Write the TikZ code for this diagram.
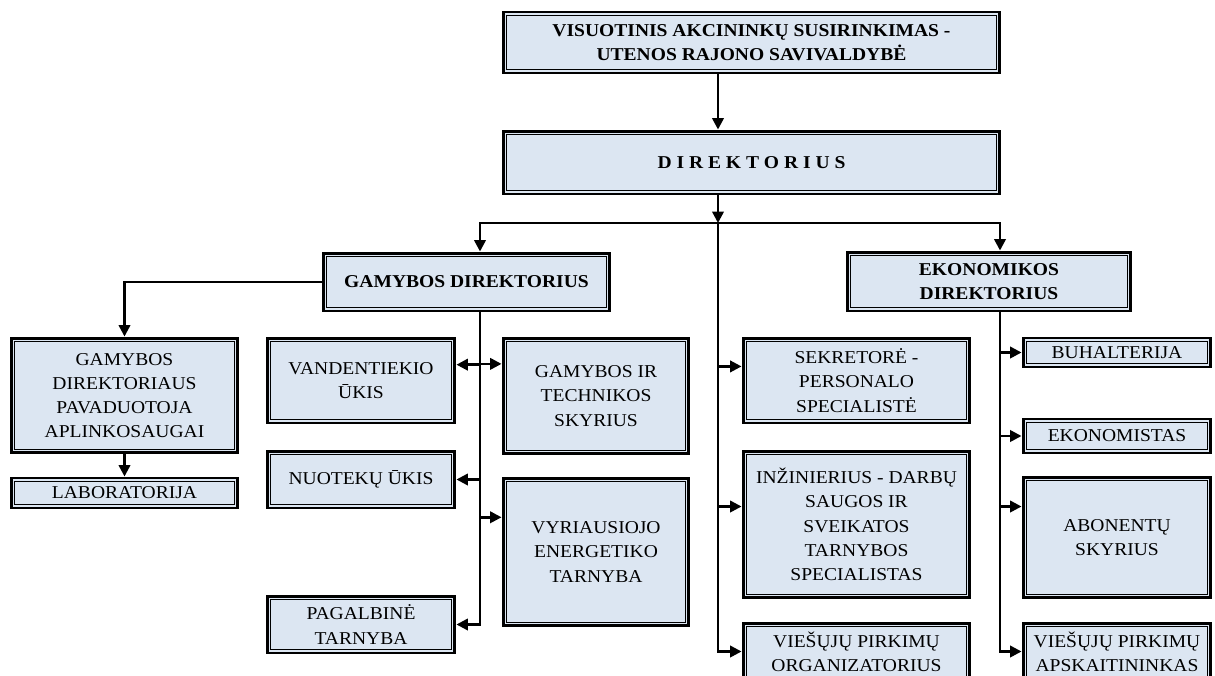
\documentclass[tikz,border=0pt]{standalone}
\usepackage{fontspec}
\setmainfont[FakeStretch=1.08]{Liberation Serif}
\usetikzlibrary{arrows.meta}
\usetikzlibrary{calc}
\definecolor{boxfill}{HTML}{DCE6F2}
\tikzset{
  box/.style={draw, line width=1.7pt, fill=boxfill, align=center, inner sep=1pt,
    font=\fontsize{10.3}{13.8}\selectfont,
    path picture={\draw[line width=0.6pt] ([shift={(2pt,2pt)}]path picture bounding box.south west) rectangle ([shift={(-2pt,-2pt)}]path picture bounding box.north east);}},
  boldbox/.style={box, font=\fontsize{10.3}{13.8}\selectfont\bfseries},
  arr/.style={line width=1.4pt, -{Triangle[length=6.5pt,width=6.5pt]}}
}
\begin{document}
\begin{tikzpicture}[x=0.02cm, y=-0.02cm]
  \clip (0,0) rectangle (1215,676);
  % top of the chart
  \node[boldbox, minimum width=9.94cm, minimum height=1.22cm] (vis) at (751.5,42.5)
    {VISUOTINIS AKCININKŲ SUSIRINKIMAS -\\UTENOS RAJONO SAVIVALDYBĖ};
  \node[boldbox, minimum width=9.94cm, minimum height=1.26cm] (dir) at (751.5,162.5)
    {D I R E K T O R I U S};
  \node[boldbox, minimum width=5.74cm, minimum height=1.16cm] (gd) at (466.5,282)
    {GAMYBOS DIREKTORIUS};
  \node[boldbox, minimum width=5.68cm, minimum height=1.18cm] (ed) at (989,281.5)
    {EKONOMIKOS\\DIREKTORIUS};

  % production side
  \node[box, minimum width=4.54cm, minimum height=2.3cm] (pav) at (124.5,395.5)
    {GAMYBOS\\DIREKTORIAUS\\PAVADUOTOJA\\APLINKOSAUGAI};
  \node[box, minimum width=4.54cm, minimum height=0.6cm] (lab) at (124.5,493) {LABORATORIJA};
  \node[box, minimum width=3.76cm, minimum height=1.7cm] (van) at (361,380.5) {VANDENTIEKIO\\ŪKIS};
  \node[box, minimum width=3.76cm, minimum height=1.14cm] (nuo) at (361,479.5) {NUOTEKŲ ŪKIS};
  \node[box, minimum width=3.76cm, minimum height=1.14cm] (pag) at (361,624.5) {PAGALBINĖ\\TARNYBA};
  \node[box, minimum width=3.72cm, minimum height=2.32cm] (gts) at (596,396)
    {GAMYBOS IR\\TECHNIKOS\\SKYRIUS};
  \node[box, minimum width=3.72cm, minimum height=2.96cm] (vyr) at (596,552)
    {VYRIAUSIOJO\\ENERGETIKO\\TARNYBA};

  % director's staff
  \node[box, minimum width=4.54cm, minimum height=1.7cm] (sek) at (856.5,380.5)
    {SEKRETORĖ -\\PERSONALO\\SPECIALISTĖ};
  \node[box, minimum width=4.54cm, minimum height=2.94cm] (inz) at (856.5,524.5)
    {INŽINIERIUS - DARBŲ\\SAUGOS IR\\SVEIKATOS\\TARNYBOS\\SPECIALISTAS};
  \node[box, minimum width=4.54cm, minimum height=1.14cm] (vpo) at (856.5,651.5)
    {VIEŠŲJŲ PIRKIMŲ\\ORGANIZATORIUS};

  % economics side
  \node[box, minimum width=3.76cm, minimum height=0.58cm] (buh) at (1117,352.5) {BUHALTERIJA};
  \node[box, minimum width=3.76cm, minimum height=0.68cm] (eko) at (1117,436) {EKONOMISTAS};
  \node[box, minimum width=3.76cm, minimum height=2.42cm] (abo) at (1117,537.5) {ABONENTŲ\\SKYRIUS};
  \node[box, minimum width=3.76cm, minimum height=1.14cm] (vpa) at (1117,651.5)
    {VIEŠŲJŲ PIRKIMŲ\\APSKAITININKAS};

  \coordinate (bus) at (718,223);
  \coordinate (gl) at (480,223);
  \coordinate (el) at (1000,223);
  \coordinate (pvan) at ($(van.north east)!0.32!(van.south east)$);
  \coordinate (pgts) at ($(gts.north west)!0.23!(gts.south west)$);
  \coordinate (pvyr) at ($(vyr.north west)!0.27!(vyr.south west)$);
  \coordinate (psek) at ($(sek.north west)!0.34!(sek.south west)$);
  \coordinate (pinz) at ($(inz.north west)!0.38!(inz.south west)$);
  \coordinate (pabo) at ($(abo.north west)!0.25!(abo.south west)$);

  \draw[arr] (vis.south -| bus) -- (dir.north -| bus);
  \draw[arr] (dir.south -| bus) -- (bus);
  \draw[arr] (bus) -| (gd.north -| gl);
  \draw[arr] (bus) -| (ed.north -| el);
  \draw[arr] (bus) |- (vpo.west);
  \draw[arr] (bus |- psek) -- (psek);
  \draw[arr] (bus |- pinz) -- (pinz);

  \draw[arr] (gd.west) -| (pav.north);
  \draw[arr] (pav.south) -- (lab.north);
  \draw[arr] (gd.south -| gl) |- (pag.east);
  \draw[arr] (gl |- pvan) -- (pvan);
  \draw[arr] (gl |- pgts) -- (pgts);
  \draw[arr] (gl |- nuo.east) -- (nuo.east);
  \draw[arr] (gl |- pvyr) -- (pvyr);

  \draw[arr] (ed.south -| el) |- (vpa.west);
  \draw[arr] (el |- buh.west) -- (buh.west);
  \draw[arr] (el |- eko.west) -- (eko.west);
  \draw[arr] (el |- pabo) -- (pabo);
\end{tikzpicture}
\end{document}
